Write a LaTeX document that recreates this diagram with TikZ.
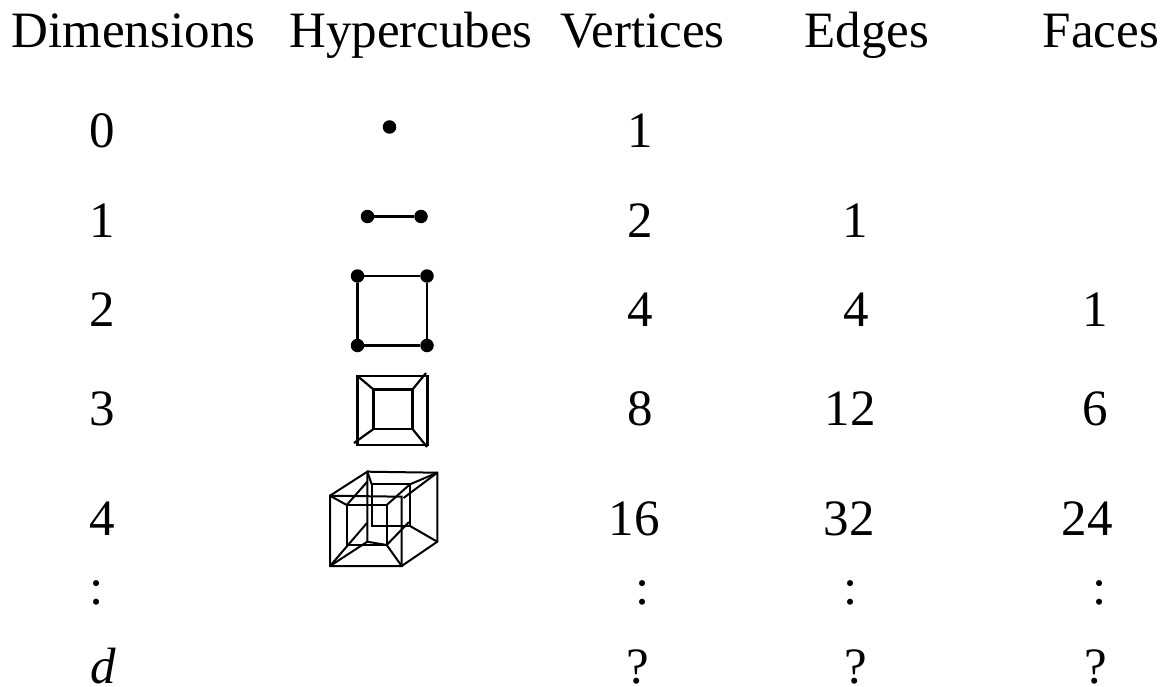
\documentclass[tikz,border=0pt]{standalone}
\usepackage{fontspec}
\setmainfont{Liberation Serif}
\begin{document}
\begin{tikzpicture}[x=1pt,y=-1pt,
  lab/.style={inner sep=0pt,anchor=base,font=\fontsize{51}{57}\selectfont},
  dotn/.style={circle,fill=black,inner sep=0pt,minimum size=13.5pt},
  edge/.style={draw=black,line width=2.2pt},
  thin edge/.style={draw=black,line width=2pt}]
\useasboundingbox (0,0) rectangle (1169,687);
% headers
\node[lab] (h1) at (133.5,48) {Dimensions};
\node[lab] (h2) at (411,48) {Hypercubes};
\node[lab] (h3) at (642.5,48) {Vertices};
\node[lab] (h4) at (866.7,48) {Edges};
\node[lab] (h5) at (1101,48) {Faces};
% column 1
\node[lab] (d0) at (102,148) {0};
\node[lab] (d1) at (102,237) {1};
\node[lab] (d2) at (102,326) {2};
\node[lab] (d3) at (102,425) {3};
\node[lab] (d4) at (102,535) {4};
\node[lab] (dc) at (97,604) {:};
\node[lab] (dd) at (103.5,683) {\itshape d};
% vertices
\node[lab] (v0) at (640,148) {1};
\node[lab] (v1) at (640,237) {2};
\node[lab] (v2) at (640,326) {4};
\node[lab] (v3) at (640,425) {8};
\node[lab] (v4) at (634,535) {16};
\node[lab] (vc) at (642.5,604) {:};
\node[lab] (vd) at (638,683) {?};
% edges
\node[lab] (e1) at (855,237) {1};
\node[lab] (e2) at (856,326) {4};
\node[lab] (e3) at (850,425) {12};
\node[lab] (e4) at (849,535) {32};
\node[lab] (ec) at (851,604) {:};
\node[lab] (ed) at (856,683) {?};
% faces
\node[lab] (f2) at (1095,326) {1};
\node[lab] (f3) at (1095,425) {6};
\node[lab] (f4) at (1087,535) {24};
\node[lab] (fc) at (1100,604) {:};
\node[lab] (fd) at (1096,683) {?};
% 0-cube
\node[dotn] (p0) at (389.5,127) {};
% 1-cube
\node[dotn] (a1) at (367.5,216.5) {};
\node[dotn] (b1) at (421,216.5) {};
\draw[edge] (a1) -- (b1);
% 2-cube
\node[dotn] (s1) at (357.5,276) {};
\node[dotn] (s2) at (427,276) {};
\node[dotn] (s3) at (427,345.5) {};
\node[dotn] (s4) at (357.5,345.5) {};
\draw[edge] (s1) -- (s2) -- (s3) -- (s4) -- (s1);
% 3-cube
\coordinate (c1) at (357.5,376);
\coordinate (c2) at (427.5,376);
\coordinate (c3) at (427.5,445);
\coordinate (c4) at (357.5,445);
\coordinate (i1) at (373.5,389.5);
\coordinate (i2) at (412.5,389.5);
\coordinate (i3) at (412.5,429);
\coordinate (i4) at (373.5,429);
\coordinate (t2) at (426,373);
\coordinate (t3) at (427,447);
\coordinate (t4) at (354,443);
\draw[edge] (c1) -- (c2) -- (c3) -- (c4) -- cycle;
\draw[edge] (i1) -- (i2) -- (i3) -- (i4) -- cycle;
\draw[edge] (c1) -- (i1);
\draw[edge] (t2) -- (i2);
\draw[edge] (t3) -- (i3);
\draw[edge] (t4) -- (i4);
% 4-cube
\coordinate (A) at (330,495.7);
\coordinate (B) at (401.7,496.7);
\coordinate (C) at (401.7,566);
\coordinate (D) at (330,566);
\coordinate (E) at (367.3,471.7);
\coordinate (F) at (437.3,472.7);
\coordinate (G) at (437.3,541.7);
\coordinate (H) at (367.3,541.7);
\coordinate (I) at (346.7,505);
\coordinate (J) at (386.7,505);
\coordinate (K) at (386.7,545);
\coordinate (L) at (346.7,545);
\coordinate (M) at (371.7,484.3);
\coordinate (N) at (410,484.3);
\coordinate (O) at (410,526);
\coordinate (P) at (371.7,526);
\coordinate (Q) at (403.5,498);
\coordinate (R) at (367,523);
\coordinate (S) at (409,522);
\coordinate (T) at (367.3,481.7);
\draw[thin edge] (A) -- (B) -- (C) -- (D) -- cycle;
\draw[thin edge] (E) -- (F) -- (G) -- (C);
\draw[thin edge] (G) -- (O);
\draw[thin edge] (A) -- (E) -- (H);
\draw[thin edge] (D) -- (H) -- (K);
\draw[thin edge] (I) -- (J) -- (K) -- (L) -- cycle;
\draw[thin edge] (M) -- (N) -- (O) -- (P) -- cycle;
\draw[thin edge] (A) -- (I) -- (T);
\draw[thin edge] (E) -- (M);
\draw[thin edge] (F) -- (N) -- (J);
\draw[thin edge] (F) -- (Q);
\draw[thin edge] (D) -- (R);
\draw[thin edge] (K) -- (C);
\draw[thin edge] (K) -- (S);
\end{tikzpicture}
\end{document}
